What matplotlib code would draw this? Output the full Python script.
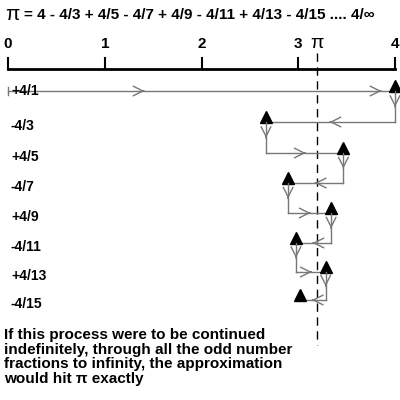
import numpy as np
import matplotlib.pyplot as plt

plt.rcParams['font.family'] = ['Liberation Sans', 'DejaVu Sans']
plt.rcParams['font.weight'] = 'bold'

# Data
terms = ['+4/1', '-4/3', '+4/5', '-4/7', '+4/9', '-4/11', '+4/13', '-4/15']
denoms = [1, 3, 5, 7, 9, 11, 13, 15]
row_y = [91, 122, 153, 183, 213, 243, 272, 300]  # pixel rows
ticks = [0, 1, 2, 3, 4]
dashed_x = 3.19  # position of the dashed pi line as drawn

gray = '#777777'
fig = plt.figure(figsize=(4, 4), dpi=100)
ax = fig.add_axes([0, 0, 1, 1])
scale = 96.75
ax.set_xlim(-8 / scale, 392 / scale)
ax.set_ylim(400, 0)
ax.axis('off')

ax.text(-0.03, 15, 'π', fontsize=15, fontweight='normal', va='center', ha='left')
ax.text(0.17, 15, '= 4 - 4/3 + 4/5 - 4/7 + 4/9 - 4/11 + 4/13 - 4/15 .... 4/∞',
        fontsize=11, va='center', ha='left')

# number line
ax.plot([0, 4], [69, 69], color='black', lw=2)
for t in ticks:
    ax.plot([t, t], [69, 58], color='black', lw=1.5)
    ax.text(t, 44, str(t), ha='center', va='center', fontsize=11)
ax.text(dashed_x, 44, 'π', ha='center', va='center', fontsize=14, fontweight='normal')
ax.plot([dashed_x, dashed_x], [53, 345], color='black', lw=1, ls=(0, (6, 4)))

def chevron(x, y, dx, dy):
    ax.annotate('', xy=(x + dx, y + dy), xytext=(x, y),
                arrowprops=dict(arrowstyle='->,head_length=0.7,head_width=0.35',
                                color=gray, lw=1, shrinkA=0, shrinkB=0))

cur = 0.0
for i, (lab, d) in enumerate(zip(terms, denoms)):
    y = row_y[i]
    sign = 1 if i % 2 == 0 else -1
    new = cur + sign * 4 / d
    ax.plot([cur, new], [y, y], color=gray, lw=1)
    if i == 0:
        ax.plot([0, 0], [y - 4, y + 4], color=gray, lw=1)
        chevron(1.4, y, 0.01, 0)
        chevron(3.85, y, 0.01, 0)
    else:
        chevron((cur + new) / 2, y, sign * 0.01, 0)
        # vertical link from previous end
        ax.plot([cur, cur], [row_y[i - 1], y], color=gray, lw=1)
        chevron(cur, (row_y[i - 1] + y) / 2, 0, 0.5)
    ax.plot(new, y - 5, marker='^', color='black', ms=8, mec='black')
    ax.text(0.03, y + (0 if i == 0 else 4), lab, fontsize=10, va='center', ha='left')
    cur = new

ax.text(-0.04, 357, 'If this process were to be continued\nindefinitely, through all the odd number\n'
        'fractions to infinity, the approximation\nwould hit π exactly',
        fontsize=11, va='center', ha='left', linespacing=1.05)

fig.savefig('out.png')
